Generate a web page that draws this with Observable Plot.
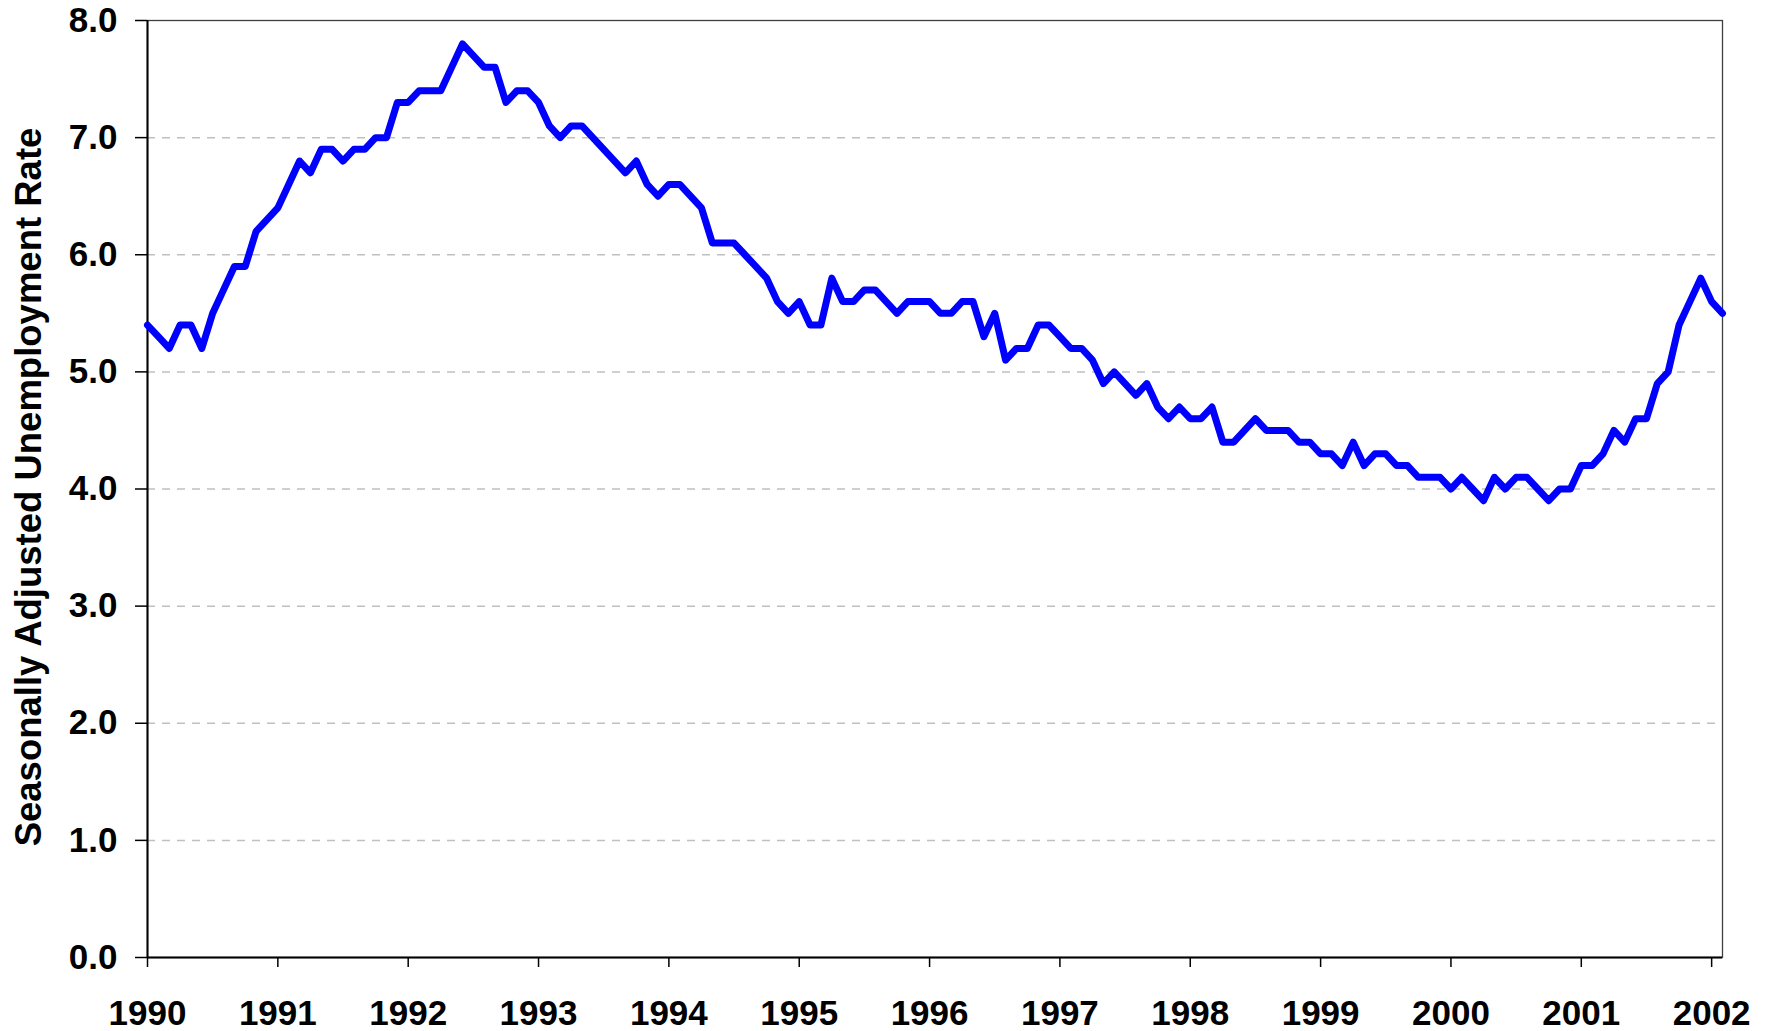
<!DOCTYPE html>
<html>
<head>
<meta charset="utf-8">
<script src="https://cdn.jsdelivr.net/npm/d3@7"></script>
<script src="https://cdn.jsdelivr.net/npm/@observablehq/plot@0.6"></script>
<style>
  html, body { margin: 0; padding: 0; background: #ffffff; }
  #chart svg { display: block; }
</style>
</head>
<body>
<div id="chart"></div>
<script>
// Tick labels
const yearTicks = [1990, 1991, 1992, 1993, 1994, 1995, 1996, 1997, 1998, 1999, 2000, 2001, 2002];
const rateTicks = [0, 1, 2, 3, 4, 5, 6, 7, 8];
const gridRates = [1, 2, 3, 4, 5, 6, 7];

// Monthly seasonally adjusted unemployment rate, Jan 1990 – Feb 2002
const startYear = 1990;
const monthlyRate = [
  // 1990
  5.4, 5.3, 5.2, 5.4, 5.4, 5.2, 5.5, 5.7, 5.9, 5.9, 6.2, 6.3,
  // 1991
  6.4, 6.6, 6.8, 6.7, 6.9, 6.9, 6.8, 6.9, 6.9, 7.0, 7.0, 7.3,
  // 1992
  7.3, 7.4, 7.4, 7.4, 7.6, 7.8, 7.7, 7.6, 7.6, 7.3, 7.4, 7.4,
  // 1993
  7.3, 7.1, 7.0, 7.1, 7.1, 7.0, 6.9, 6.8, 6.7, 6.8, 6.6, 6.5,
  // 1994
  6.6, 6.6, 6.5, 6.4, 6.1, 6.1, 6.1, 6.0, 5.9, 5.8, 5.6, 5.5,
  // 1995
  5.6, 5.4, 5.4, 5.8, 5.6, 5.6, 5.7, 5.7, 5.6, 5.5, 5.6, 5.6,
  // 1996
  5.6, 5.5, 5.5, 5.6, 5.6, 5.3, 5.5, 5.1, 5.2, 5.2, 5.4, 5.4,
  // 1997
  5.3, 5.2, 5.2, 5.1, 4.9, 5.0, 4.9, 4.8, 4.9, 4.7, 4.6, 4.7,
  // 1998
  4.6, 4.6, 4.7, 4.4, 4.4, 4.5, 4.6, 4.5, 4.5, 4.5, 4.4, 4.4,
  // 1999
  4.3, 4.3, 4.2, 4.4, 4.2, 4.3, 4.3, 4.2, 4.2, 4.1, 4.1, 4.1,
  // 2000
  4.0, 4.1, 4.0, 3.9, 4.1, 4.0, 4.1, 4.1, 4.0, 3.9, 4.0, 4.0,
  // 2001
  4.2, 4.2, 4.3, 4.5, 4.4, 4.6, 4.6, 4.9, 5.0, 5.4, 5.6, 5.8,
  // 2002
  5.6, 5.5
];

const yTitle = "Seasonally Adjusted Unemployment Rate";

const data = monthlyRate.map((v, i) => ({ t: startYear + i / 12, rate: v }));
const xEnd = startYear + (monthlyRate.length - 1) / 12;

const fontFamily = "'Liberation Sans', Arial, Helvetica, sans-serif";

const chart = Plot.plot({
  width: 1771,
  height: 1031,
  marginLeft: 147,
  marginRight: 49,
  marginTop: 20,
  marginBottom: 74,
  style: {
    fontFamily,
    fontSize: "35px",
    fontWeight: "bold",
    color: "#000",
    background: "#fff",
    overflow: "visible"
  },
  x: { type: "linear", domain: [startYear, xEnd] },
  y: { type: "linear", domain: [0, 8] },
  marks: [
    Plot.ruleY(gridRates, { stroke: "#c0c0c0", strokeWidth: 1.5, strokeDasharray: "8,7" }),
    Plot.frame({ stroke: "#404040", strokeWidth: 1.3 }),
    Plot.axisY({
      ticks: rateTicks,
      tickSize: 12,
      tickPadding: 18,
      strokeWidth: 1.5,
      tickFormat: d => d.toFixed(1),
      label: null
    }),
    Plot.axisX({
      ticks: yearTicks,
      tickSize: 10,
      tickPadding: 33,
      strokeWidth: 1.5,
      tickFormat: d => String(d),
      label: null
    }),
    Plot.ruleX([startYear], { stroke: "#000", strokeWidth: 2 }),
    Plot.ruleY([0], { stroke: "#000", strokeWidth: 2 }),
    Plot.lineY(data, {
      x: "t",
      y: "rate",
      stroke: "#0000ff",
      strokeWidth: 7,
      strokeLinejoin: "round",
      strokeLinecap: "round"
    }),
    Plot.text([yTitle], {
      text: d => d,
      frameAnchor: "left",
      dx: -118,
      dy: -2,
      rotate: -90,
      textAnchor: "middle",
      lineAnchor: "middle",
      fontSize: 36.5,
      fontWeight: "bold",
      fill: "#000"
    })
  ]
});

document.getElementById("chart").appendChild(chart);
</script>
</body>
</html>
